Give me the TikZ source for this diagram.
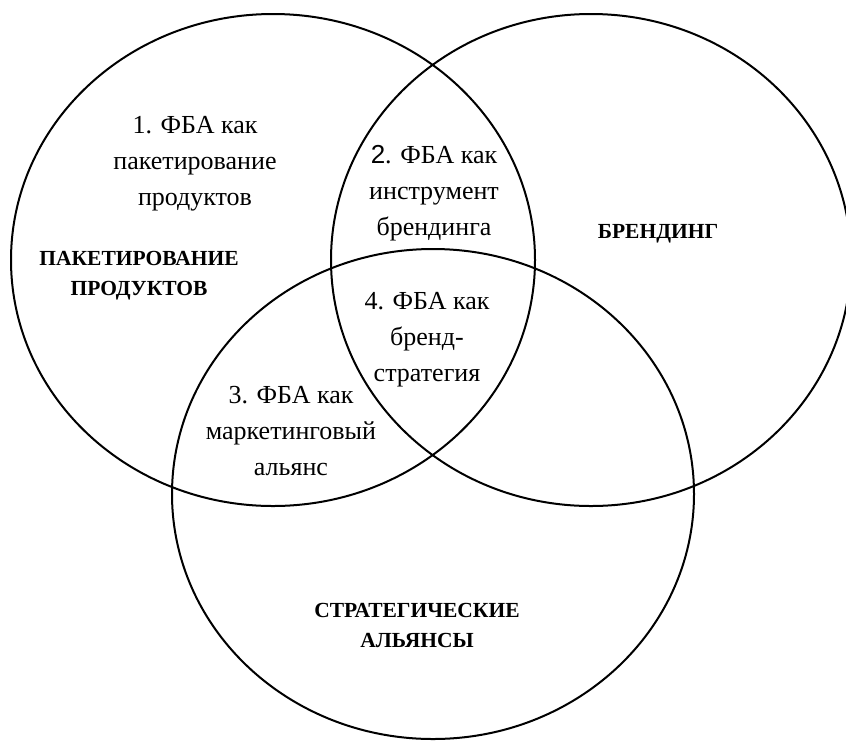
\documentclass[tikz,border=0pt]{standalone}
\usepackage{fontspec}
\setmainfont{Liberation Serif}
\newfontfamily\digitfont{Liberation Sans}
\begin{document}
\begin{tikzpicture}[x=1pt,y=-1pt,
  venn/.style={draw=black,line width=2pt},
  region/.style={align=center,font=\fontsize{26}{36}\selectfont,inner sep=0pt},
  setname/.style={align=center,font=\bfseries\fontsize{21.5}{30}\selectfont,inner sep=0pt}]
\useasboundingbox (0,0) rectangle (846,740);
\begin{scope}
\clip (0,0) rectangle (846,740);
\draw[venn] (273,260) ellipse [x radius=262, y radius=246];
\draw[venn] (591,260) ellipse [x radius=260, y radius=246];
\draw[venn] (433,494) ellipse [x radius=261, y radius=245];
\end{scope}
\node[region] (r1) at (195,164) {1. ФБА как\\пакетирование\\продуктов};
\node[region] (r2) at (434,193) {{\digitfont 2}. ФБА как\\инструмент\\брендинга};
\node[region] (r4) at (427,340) {4. ФБА как\\бренд-\\стратегия};
\node[region] (r3) at (291,431) {3. ФБА как\\маркетинговый\\альянс};
\node[setname] (s1) at (139,276) {ПАКЕТИРОВАНИЕ\\ПРОДУКТОВ};
\node[setname] (s2) at (658,234) {БРЕНДИНГ};
\node[setname] (s3) at (417,625) {СТРАТЕГИЧЕСКИЕ\\АЛЬЯНСЫ};
\end{tikzpicture}
\end{document}
